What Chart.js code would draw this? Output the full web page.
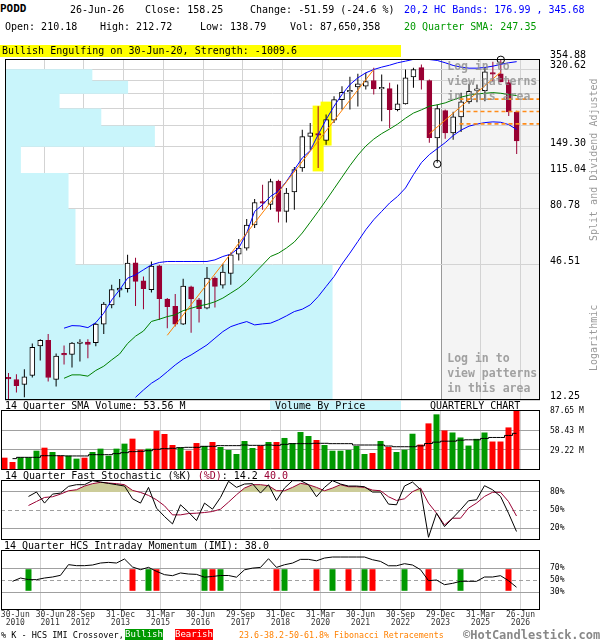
<!DOCTYPE html>
<html>
<head>
<meta charset="utf-8">
<script src="https://cdn.jsdelivr.net/npm/chart.js"></script>
<style>
  html, body { margin: 0; padding: 0; background: #fff; }
  body { position: relative; width: 600px; height: 640px; overflow: hidden;
         font-family: 'DejaVu Sans Mono', monospace; font-size: 10px; color: #000; }
  canvas { position: absolute; left: 0; }
  .t { position: absolute; white-space: pre; line-height: 12px; z-index: 2; }
  .rot { position: absolute; white-space: pre; line-height: 12px; color: #999; z-index: 2;
         text-align: center; transform: rotate(-90deg); transform-origin: center; }
</style>
</head>
<body>
<canvas id="main" width="600" height="370" style="top:40px"></canvas>
<canvas id="vol" width="600" height="70" style="top:405px"></canvas>
<canvas id="sto" width="600" height="70" style="top:475px"></canvas>
<canvas id="imi" width="600" height="95" style="top:545px"></canvas>

<!-- header -->
<div class="t" style="left:0;top:3px;font-size:11px;font-weight:bold">PODD</div>
<div class="t" style="left:70px;top:4px">26-Jun-26</div>
<div class="t" style="left:145px;top:4px">Close: 158.25</div>
<div class="t" style="left:250px;top:4px">Change: -51.59 (-24.6 %)</div>
<div class="t" style="left:404px;top:4px;color:#0000ff">20,2 HC Bands: 176.99 , 345.68</div>
<div class="t" style="left:5px;top:21px">Open: 210.18</div>
<div class="t" style="left:100px;top:21px">High: 212.72</div>
<div class="t" style="left:200px;top:21px">Low: 138.79</div>
<div class="t" style="left:290px;top:21px">Vol: 87,650,358</div>
<div class="t" style="left:404px;top:21px;color:#009900">20 Quarter SMA: 247.35</div>
<div class="t" style="left:0;top:45px;width:399px;height:12px;background:#ffff00;padding-left:2px">Bullish Engulfing on 30-Jun-20, Strength: -1009.6</div>

<div class="rot" style="left:513px;top:154px;width:162px">Split and Dividend Adjusted</div>
<div class="rot" style="left:561px;top:332px;width:66px">Logarithmic</div>

<!-- panel titles -->
<div class="t" style="left:5px;top:400px">14 Quarter SMA Volume: 53.56 M</div>
<div class="t" style="left:270px;top:401px;width:126px;height:9px;line-height:9px;background:#c9f5fb;padding-left:5px">Volume By Price</div>
<div class="t" style="left:430px;top:400px">QUARTERLY CHART</div>
<div class="t" style="left:5px;top:470px">14 Quarter Fast Stochastic (%K) <span style="color:#990033">(%D)</span>: 14.2 <span style="color:#990033">40.0</span></div>
<div class="t" style="left:4px;top:540px">14 Quarter HCS Intraday Momentum (IMI): 38.0</div>

<!-- legend -->
<div class="t" style="left:1px;top:630px;font-size:8.5px;line-height:11px">% K - HCS IMI Crossover,</div>
<div class="t" style="left:125px;top:629px;width:38px;height:11px;line-height:11px;background:#009900;color:#fff;font-size:9px;text-align:center">Bullish</div>
<div class="t" style="left:175px;top:629px;width:38px;height:11px;line-height:11px;background:#ff0000;color:#fff;font-size:9px;text-align:center">Bearish</div>
<div class="t" style="left:239px;top:630px;font-size:8.3px;line-height:11px;color:#ff8000">23.6-38.2-50-61.8% Fibonacci Retracements</div>
<div class="t" style="left:463px;top:628px;font-size:12px;line-height:15px;font-weight:bold;color:#888">©HotCandlestick.com</div>

<script>
// quarterly candles, index 0 = 30-Jun-2010 ... index 64 = 26-Jun-2026
var opens = [15.3, 15.0, 14.3, 15.6, 20.9, 22.1, 15.0, 19.4, 19.2, 21.4,
  21.7, 21.6, 25.9, 31.3, 36.2, 36.8, 47.5, 39.7, 36.4, 46.1,
  33.2, 30.9, 25.9, 37.4, 32.9, 30.3, 40.8, 38.1, 42.7, 51.7,
  54.9, 68.9, 86.6, 84.5, 106.4, 78.8, 95.5, 121.0, 165.4, 169.5,
  159.0, 194.0, 237.8, 256.5, 269.7, 271.3, 286.9, 264.3, 265.1, 215.4,
  228.0, 297.7, 326.0, 286.9, 162.8, 213.3, 171.1, 200.4, 232.4, 260.5,
  259.9, 309.5, 306.5, 281.0, 210.18];
var highs = [16.0, 15.8, 16.6, 21.4, 22.3, 23.5, 19.4, 21.0, 21.7, 22.3,
  22.3, 26.2, 32.2, 38.2, 40.4, 51.4, 49.9, 41.5, 48.1, 46.5,
  33.5, 34.9, 40.5, 37.8, 33.5, 45.5, 41.5, 47.0, 52.5, 60.0,
  73.1, 89.1, 102.6, 108.9, 107.7, 99.3, 122.3, 176.7, 188.9, 222.6,
  205.0, 245.7, 271.3, 297.7, 306.6, 309.6, 325.3, 304.4, 280.4, 275.8,
  319.9, 325.3, 336.0, 289.7, 226.3, 215.4, 210.6, 254.1, 277.7, 275.8,
  325.3, 345.0, 354.0, 290.0, 212.72];
var lows = [12.0, 13.2, 12.6, 15.3, 18.1, 14.7, 14.0, 17.4, 16.9, 17.9,
  18.5, 20.8, 23.5, 30.3, 33.8, 35.4, 31.0, 30.0, 35.4, 27.0,
  24.9, 25.3, 25.7, 23.8, 26.3, 30.0, 30.5, 36.8, 38.2, 48.6,
  53.6, 66.9, 80.2, 80.2, 70.7, 70.7, 80.2, 116.7, 145.0, 121.0,
  152.4, 188.9, 215.4, 215.4, 222.0, 262.5, 249.8, 191.9, 179.7, 211.8,
  226.3, 267.0, 262.5, 155.4, 127.5, 161.7, 160.1, 172.8, 227.9, 231.5,
  233.8, 284.9, 282.0, 202.0, 138.79];
var closes = [15.1, 14.1, 15.4, 20.6, 22.1, 15.3, 18.9, 19.1, 21.5, 21.6,
  21.2, 25.9, 31.6, 36.4, 37.0, 47.3, 39.5, 36.8, 45.9, 33.3,
  30.8, 25.9, 37.7, 33.2, 30.2, 40.8, 37.6, 43.3, 51.4, 54.9,
  68.9, 86.1, 85.6, 105.7, 78.8, 94.5, 119.0, 164.9, 171.1, 167.3,
  195.1, 237.8, 255.6, 258.8, 277.7, 284.1, 264.3, 266.5, 215.4, 227.9,
  294.7, 319.9, 289.0, 163.3, 217.6, 171.1, 200.4, 232.4, 258.1, 263.5,
  312.7, 305.5, 283.2, 210.5, 158.25];

// 20 quarter SMA and 20,2 HC bands (null where not drawn)
var sma20 = [null, null, null, null, null, null, null,
  15.18, 15.7, 15.7, 15.5, 16.4, 17.1, 18.2, 19.3, 21.4, 23.0,
  24.2, 26.6, 27.2, 27.9, 28.4, 29.6, 30.3, 31.0, 31.5, 32.3,
  33.5, 35.2, 37.0, 39.5, 42.9, 46.5, 50.5, 52.2, 54.9, 58.3,
  63.7, 70.8, 78.8, 88.0, 98.6, 110.5, 123.8, 137.4, 150.2, 160.9,
  169.9, 177.7, 186.6, 197.8, 208.1, 214.8, 222.6, 225.8, 230.1, 237.1,
  243.5, 248.3, 251.5, 253.0, 254.7, 253.0, 249.8, 247.35];
var upperBand = [null, null, null, null, null, null, null,
  24.89, 25.53, 25.45, 25.03, 26.30, 28.87, 32.88, 36.35, 40.79, 42.14,
  44.30, 46.52, 47.61, 48.08, 48.08, 48.08, 48.08, 48.08, 48.08, 48.85,
  50.51, 51.71, 54.88, 63.67, 78.82, 84.22, 91.41, 96.2, 106.0, 119.0,
  133.6, 143.6, 168.2, 195.1, 222.6, 249.8, 275.8, 294.7, 309.6, 319.9,
  327.5, 333.9, 341.9, 347.5, 353.6, 354.5, 353.0, 349.8, 341.9, 333.0,
  327.5, 324.2, 324.2, 326.4, 330.7, 336.6, 341.9, 345.68];
var lowerBand = [null, null, null, null, null, null, null, null,
  null, null, null, null, null, null, null, null,
  12.58, 13.52, 14.45, 15.18, 16.20, 17.31, 18.32, 19.11, 20.08, 21.10,
  22.54, 24.06, 25.28, 25.97, 26.57, 25.71, 25.97, 26.15, 27.01, 28.10,
  29.33, 30.02, 31.33, 34.00, 37.56, 41.45, 46.86, 52.24, 58.61, 65.77,
  72.61, 78.82, 85.65, 91.41, 99.33, 113.3, 127.5, 138.1, 146.5, 155.4,
  166.6, 175.9, 182.9, 186.6, 189.4, 190.8, 190.0, 185.7, 176.99];

// volume (millions) and its 14 quarter SMA
var volumes = [18.0, 11.7, 18.5, 18.5, 28.2, 32.6, 26.3, 20.9, 20.9, 16.6,
  18.0, 26.3, 31.2, 20.9, 31.2, 38.5, 45.8, 29.7, 31.2, 57.5,
  52.6, 36.5, 33.1, 28.2, 39.4, 35.1, 40.9, 33.6, 29.2, 23.4,
  42.4, 32.1, 35.6, 40.9, 40.9, 46.8, 39.4, 55.5, 49.7, 43.8,
  36.5, 28.2, 28.2, 29.2, 35.1, 23.4, 24.8, 42.4, 33.6, 26.3,
  29.6, 53.0, 37.2, 68.1, 81.3, 57.8, 54.8, 47.5, 35.7, 45.5,
  54.8, 41.6, 41.6, 62.2, 87.65];
var volSma = [null, 16.6, 18.5, 18.5, 18.5, 20.9, 20.9, 20.9, 20.5, 20.5,
  20.5, 22.4, 22.4, 22.4, 23.9, 25.3, 26.8, 27.3, 28.2, 30.2,
  31.2, 31.7, 32.6, 33.1, 33.1, 34.6, 34.6, 35.6, 35.6, 35.6,
  36.5, 36.0, 36.0, 36.5, 36.0, 37.5, 38.5, 38.5, 38.5, 39.0,
  39.0, 38.5, 38.5, 38.5, 36.5, 36.5, 36.5, 36.5, 35.0, 34.0,
  34.0, 34.0, 35.3, 38.7, 40.7, 42.1, 42.1, 43.6, 44.1, 44.1,
  46.1, 47.5, 47.5, 50.5, 53.56];

// 14 quarter fast stochastic
var stochK = [null, null, null, 72.6, 80, 61.5, 76.5, 78.2, 89.4, 92.2,
  92.2, 98.9, 96.6, 94.4, 92.2, 89.9, 68.7, 61.5, 87.7, 53.1,
  39.1, 26.8, 58.7, 46.4, 32.4, 61.5, 51.4, 70.9, 97.8, 87.7,
  93.3, 93.9, 78.2, 92.2, 65.9, 86.6, 98.9, 98.9, 92.2, 72.1,
  87.7, 98.9, 93.3, 89.9, 89.9, 88.8, 79.9, 79.9, 59.8, 58.7,
  90, 96.6, 84, 4.5, 44.7, 22.3, 36.3, 50.3, 65.4, 67,
  90.5, 83.8, 72.6, 44.7, 14.2];
var stochD = [null, null, null, 57.5, 64.2, 70.9, 72.1, 76.5, 82, 83.8,
  89.9, 93.9, 96.1, 95, 93.9, 92.2, 82.7, 79.3, 74.3, 67,
  57, 41.9, 41.9, 44.1, 44.7, 45.8, 47.5, 51.4, 63.1, 75.4,
  86.6, 92.2, 92.2, 90.5, 82.1, 82.1, 87.7, 94.4, 92.2, 87.7,
  82.1, 86.6, 92.2, 88.8, 88.8, 87.7, 83.2, 82.1, 72.1, 65.9,
  68.7, 80.5, 86.6, 61.5, 44.7, 25.1, 36.3, 36.3, 53.1, 61.5,
  72.6, 79.5, 79.5, 64.2, 40.0];

// 14 quarter HCS intraday momentum and %K / IMI crossovers
var imi = [null, 47.8, 53.3, 50.6, 50.6, 53.3, 55, 57.8, 75.6, 73.9,
  73.9, 75, 78.3, 79.4, 78.3, 85, 71.7, 67.2, 71.1, 64.4,
  58.9, 57.2, 61.7, 60, 59.4, 54.7, 55.9, 57.5, 57.5, 54.7,
  67, 69.8, 71, 85.5, 71, 75.4, 78.2, 84.4, 84.4, 82,
  86.6, 88.3, 88.3, 88.3, 88.3, 88.3, 83.8, 81, 73.7, 73.7,
  77.2, 75, 67.2, 48.9, 50, 42.2, 44.4, 47.8, 47.8, 47.8,
  55, 55, 57.2, 48.9, 38.0];
var imiBullish = [3, 18, 25, 27, 35, 41, 45, 50, 57];
var imiBearish = [16, 19, 26, 34, 39, 43, 46, 53, 63];

// volume by price, bottom band first (band edges = priceGrid)
var vbpVolume = [330, 71, 64, 16, 151, 97, 55, 124, 88, 0];

// price axis
var priceGrid = [12.25, 46.51, 80.78, 115.04, 149.30, 183.56, 217.82, 252.09, 286.35, 320.62, 354.88];
var priceLabels = ['12.25', '46.51', '80.78', '115.04', '149.30', '', '', '', '', '320.62', '354.88'];
var fibLevels = [277.85, 238.81, 211.31, 186.97];

// markers
var patternBoxes = [{ q: 39, lo: 117, hi: 224 }, { q: 40, lo: 151, hi: 233 }];
var pivotMarks = [{ q: 54, price: 125.9 }, { q: 62, price: 352.1 }];
var trendLines = [
  [{ q: 20, price: 23.2 }, { q: 46, price: 319.9 }],
  [{ q: 53, price: 169.5 }, { q: 62, price: 312.0 }]
];
var fibFrom = 56.8;

// x axis ticks
var gridQ = [4.5, 9.5, 14.5, 19.5, 24.5, 29.5, 34.5, 39.5, 44.5, 49.5, 54.5, 59.5, 64.5];
var labelQ = [1.35, 5.7, 9.5, 14.5, 19.5, 24.5, 29.5, 34.5, 39.5, 44.5, 49.5, 54.5, 59.5, 64.5];
var dateTicks = ['30-Jun 2010', '30-Jun 2011', '28-Sep 2012', '31-Dec 2013', '31-Mar 2015',
  '30-Jun 2016', '29-Sep 2017', '31-Dec 2018', '31-Mar 2020', '30-Jun 2021',
  '30-Sep 2022', '29-Dec 2023', '31-Mar 2025', '26-Jun 2026'];
var lockedFrom = 54.5;
var lockedText = ['Log in to', 'view patterns', 'in this area'];

var X_MIN = -0.4375, X_MAX = 66.9375;
var MAROON = '#990033', GREEN = '#009900', RED = '#ff0000';

Chart.defaults.font.family = "'DejaVu Sans Mono', monospace";

function isUp(i) { return closes[i] >= opens[i]; }
function series(arr) { return arr.map(function(v, i) { return { x: i, y: v }; }); }

function frame(chart) {
  var a = chart.chartArea, ctx = chart.ctx;
  ctx.save();
  ctx.strokeStyle = '#000';
  ctx.lineWidth = 1;
  ctx.strokeRect(a.left + 0.5, a.top + 0.5, a.right - a.left - 1, a.bottom - a.top - 1);
  ctx.restore();
}
var framePlugin = { id: 'frame', afterDraw: frame };

function xGrid(darkLock) {
  return {
    type: 'linear', position: 'bottom', min: X_MIN, max: X_MAX, offset: false,
    grid: {
      drawTicks: false, offset: false, lineWidth: 1,
      color: function(c) { return darkLock && c.tick && c.tick.value === lockedFrom ? '#999' : '#d3d3d3'; }
    },
    border: { display: false },
    ticks: { display: false },
    afterBuildTicks: function(ax) { ax.ticks = gridQ.map(function(v) { return { value: v }; }); },
    afterFit: function(ax) { ax.height = 0; ax.paddingLeft = 0; ax.paddingRight = 0; }
  };
}

function yPanel(min, max, ticks, fmt, offset) {
  return {
    type: 'linear', position: 'right', min: min, max: max,
    grid: { drawTicks: false, color: '#a0a0a0' },
    border: { display: false, dash: function(c) { return c.tick && c.tick.value === 50 ? [4, 3] : []; } },
    ticks: { padding: 10, labelOffset: offset, color: '#000', font: { size: 8 }, autoSkip: false,
             callback: function(v) { return fmt(v); } },
    afterBuildTicks: function(ax) { ax.ticks = ticks.map(function(v) { return { value: v }; }); },
    afterFit: function(ax) { ax.width = 60; ax.paddingTop = 0; ax.paddingBottom = 0; }
  };
}

// ---------- main price chart ----------
var vbpPoints = [];
vbpVolume.forEach(function(v, k) {
  vbpPoints.push({ x: v, y: priceGrid[k] });
  vbpPoints.push({ x: v, y: priceGrid[k + 1] });
});
vbpPoints.push({ x: 0, y: priceGrid[priceGrid.length - 1] });
vbpPoints.push({ x: 0, y: priceGrid[0] });

function lineSet(data, color, order, extra) {
  var d = { type: 'line', data: data, borderColor: color, borderWidth: 1, pointRadius: 0,
            tension: 0, fill: false, order: order, xAxisID: 'x', yAxisID: 'y' };
  return Object.assign(d, extra || {});
}

var mainSets = [
  { type: 'line', data: pivotMarks.map(function(p) { return { x: p.q, y: p.price }; }),
    showLine: false, pointRadius: 3.7, pointBorderColor: '#000', pointBackgroundColor: 'rgba(0,0,0,0)',
    pointBorderWidth: 1, clip: false, order: 0, xAxisID: 'x', yAxisID: 'y' },
  lineSet(series(upperBand), '#0000ff', 2),
  lineSet(series(lowerBand), '#0000ff', 2),
  lineSet(series(sma20), '#008000', 2),
  { type: 'bar', data: opens.map(function(o, i) { return { x: i, y: [o, closes[i]] }; }),
    backgroundColor: function(c) { return isUp(c.dataIndex) ? '#fff' : MAROON; },
    borderColor: function(c) { return isUp(c.dataIndex) ? '#000' : MAROON; },
    borderWidth: 1, borderSkipped: false, barThickness: 5, minBarLength: 1.5, grouped: false,
    order: 3, xAxisID: 'x', yAxisID: 'y' },
  { type: 'bar', data: lows.map(function(l, i) { return { x: i, y: [l, highs[i]] }; }),
    backgroundColor: function(c) { return isUp(c.dataIndex) ? '#000' : MAROON; },
    borderWidth: 0, barThickness: 1, inflateAmount: 0, grouped: false,
    order: 4, xAxisID: 'x', yAxisID: 'y' },
  { type: 'bar', data: patternBoxes.map(function(p) { return { x: p.q, y: [p.lo, p.hi] }; }),
    backgroundColor: '#ffff00', borderWidth: 0, barThickness: 11, inflateAmount: 0, grouped: false,
    order: 5, xAxisID: 'x', yAxisID: 'y' },
  { type: 'line', data: vbpPoints, xAxisID: 'xv', yAxisID: 'y', borderWidth: 0, pointRadius: 0,
    tension: 0, backgroundColor: '#c9f5fb', fill: 'shape', order: 6 }
];
trendLines.forEach(function(t) {
  mainSets.push(lineSet(t.map(function(p) { return { x: p.q, y: p.price }; }), '#ff8000', 1));
});
fibLevels.slice(1).forEach(function(lv) {
  mainSets.push(lineSet([{ x: fibFrom, y: lv }, { x: X_MAX, y: lv }], '#ff8c1a', 1,
    { borderWidth: 1.6, borderDash: [4, 3] }));
});

var mainDecor = {
  id: 'mainDecor',
  beforeDraw: function(chart) {
    var a = chart.chartArea, ctx = chart.ctx;
    var x0 = chart.scales.x.getPixelForValue(lockedFrom);
    ctx.save();
    ctx.fillStyle = '#f4f4f4';
    ctx.fillRect(x0, a.top, a.right - x0, a.bottom - a.top);
    ctx.restore();
  },
  afterDatasetsDraw: function(chart) {
    var a = chart.chartArea, ctx = chart.ctx;
    var x0 = chart.scales.x.getPixelForValue(lockedFrom) + 6;
    ctx.save();
    ctx.font = "bold 11.5px 'DejaVu Sans Mono'";
    ctx.fillStyle = 'rgba(140,140,140,0.8)';
    ctx.textBaseline = 'middle';
    lockedText.forEach(function(s, k) {
      ctx.fillText(s, x0, a.top + 8.5 + 15 * k);
      ctx.fillText(s, x0, a.bottom - 41 + 15 * k);
    });
    ctx.restore();
  },
  afterDraw: frame
};

new Chart(document.getElementById('main'), {
  type: 'bar',
  data: { datasets: mainSets },
  options: {
    responsive: false, animation: false, events: [],
    layout: { padding: { left: 1, right: 0, top: 19, bottom: 10 } },
    plugins: { legend: { display: false }, tooltip: { enabled: false } },
    scales: {
      x: xGrid(true),
      xv: { type: 'linear', display: false, min: 0, max: 539, offset: false, grid: { offset: false } },
      yf: {
        type: 'logarithmic', position: 'right', weight: 0,
        min: priceGrid[0], max: priceGrid[priceGrid.length - 1],
        grid: { display: false }, border: { display: false },
        ticks: { padding: 5, labelOffset: -1.3, color: '#ff8000', font: { size: 8 }, autoSkip: false,
                 callback: function(v) { return v.toFixed(2); } },
        afterBuildTicks: function(ax) { ax.ticks = fibLevels.map(function(v) { return { value: v }; }); },
        afterFit: function(ax) { ax.width = 0; ax.paddingTop = 0; ax.paddingBottom = 0; }
      },
      y: {
        type: 'logarithmic', position: 'right', weight: 1,
        min: priceGrid[0], max: priceGrid[priceGrid.length - 1],
        grid: { drawTicks: false, color: '#d3d3d3' }, border: { display: false },
        ticks: { padding: 10, labelOffset: -3.4, color: '#000', font: { size: 10 }, autoSkip: false,
                 callback: function(v, i) { return priceLabels[i]; } },
        afterBuildTicks: function(ax) { ax.ticks = priceGrid.map(function(v) { return { value: v }; }); },
        afterFit: function(ax) { ax.width = 60; ax.paddingTop = 0; ax.paddingBottom = 0; }
      }
    }
  },
  plugins: [mainDecor]
});

// ---------- volume ----------
new Chart(document.getElementById('vol'), {
  type: 'bar',
  data: { datasets: [
    { type: 'line', data: series(volSma), borderColor: '#000', borderWidth: 1, pointRadius: 0,
      stepped: 'middle', order: 0 },
    { data: series(volumes),
      backgroundColor: volumes.map(function(v, i) { return isUp(i) ? GREEN : RED; }),
      borderWidth: 0, barThickness: 6, inflateAmount: 0, grouped: false, order: 1 }
  ] },
  options: {
    responsive: false, animation: false, events: [],
    layout: { padding: { left: 1, right: 0, top: 5, bottom: 5 } },
    plugins: { legend: { display: false }, tooltip: { enabled: false } },
    scales: {
      x: xGrid(false),
      y: yPanel(0, 87.65, [29.22, 58.43, 87.65], function(v) { return v.toFixed(2) + ' M'; }, 1)
    }
  },
  plugins: [framePlugin]
});

// ---------- stochastic ----------
new Chart(document.getElementById('sto'), {
  type: 'line',
  data: { datasets: [
    { data: series(stochK), borderColor: '#000', borderWidth: 1, pointRadius: 0, tension: 0, order: 0 },
    { data: series(stochD), borderColor: MAROON, borderWidth: 1, pointRadius: 0, tension: 0, order: 1,
      fill: { target: { value: 80 }, above: 'rgb(204,204,153)', below: 'rgba(0,0,0,0)' } }
  ] },
  options: {
    responsive: false, animation: false, events: [],
    layout: { padding: { left: 1, right: 0, top: 5, bottom: 5 } },
    plugins: { legend: { display: false }, tooltip: { enabled: false } },
    scales: {
      x: xGrid(false),
      y: yPanel(0, 100, [20, 50, 80], function(v) { return v + '%'; }, 0)
    }
  },
  plugins: [framePlugin]
});

// ---------- intraday momentum ----------
function crossSet(list, color) {
  return { type: 'bar', data: list.map(function(q) { return { x: q, y: [32, 68] }; }),
           backgroundColor: color, borderWidth: 0, barThickness: 6, inflateAmount: 0,
           grouped: false, order: 1 };
}
new Chart(document.getElementById('imi'), {
  type: 'bar',
  data: { datasets: [
    { type: 'line', data: series(imi), borderColor: '#000', borderWidth: 1, pointRadius: 0, tension: 0, order: 0 },
    crossSet(imiBullish, GREEN),
    crossSet(imiBearish, RED)
  ] },
  options: {
    responsive: false, animation: false, events: [],
    layout: { padding: { left: 1, right: 0, top: 5, bottom: 0 } },
    plugins: { legend: { display: false }, tooltip: { enabled: false } },
    scales: {
      x: xGrid(false),
      xl: {
        type: 'linear', position: 'bottom', min: X_MIN, max: X_MAX, offset: false,
        grid: { display: false, drawTicks: false }, border: { display: false },
        ticks: { autoSkip: false, maxRotation: 0, minRotation: 0, padding: 1.2, color: '#333',
                 font: { size: 8, lineHeight: 0.95 },
                 callback: function(v, i) { return dateTicks[i].split(' '); } },
        afterBuildTicks: function(ax) { ax.ticks = labelQ.map(function(v) { return { value: v }; }); },
        afterFit: function(ax) { ax.height = 30; ax.paddingLeft = 0; ax.paddingRight = 0; }
      },
      y: yPanel(0, 100, [30, 50, 70], function(v) { return v + '%'; }, 0)
    }
  },
  plugins: [framePlugin]
});
</script>
</body>
</html>
